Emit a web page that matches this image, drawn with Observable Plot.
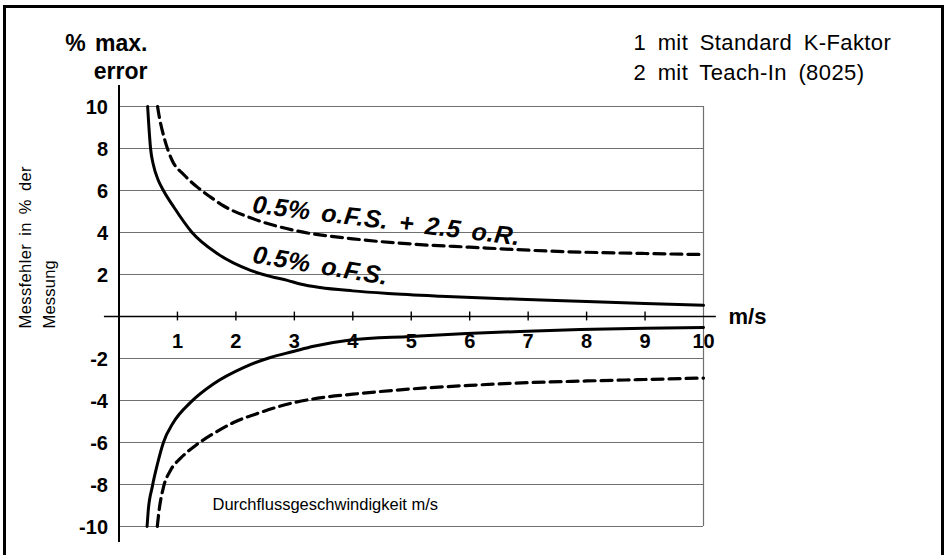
<!DOCTYPE html>
<html>
<head>
<meta charset="utf-8">
<script src="https://cdn.jsdelivr.net/npm/d3@7"></script>
<script src="https://cdn.jsdelivr.net/npm/@observablehq/plot@0.6"></script>
<style>
  html, body { margin: 0; padding: 0; background: #fff; }
  #wrap { position: relative; width: 946px; height: 555px; overflow: hidden; }
  #border { position: absolute; left: 3px; top: 5px; width: 941px; height: 600px;
            box-sizing: border-box; border: 3px solid #000; pointer-events: none; }
</style>
</head>
<body>
<div id="wrap"><div id="border"></div></div>
<script>
// ---- data ----
const xTicks = [1, 2, 3, 4, 5, 6, 7, 8, 9, 10];
const yTicks = [10, 8, 6, 4, 2, -2, -4, -6, -8, -10];

// curve 1 (solid): 0.5% o.F.S.
const solidUpperX = [0.49, 0.51, 0.54, 0.59, 0.67, 0.76, 0.94, 1.25, 1.68, 2.25, 2.6, 2.88, 3.1, 3.44, 4.0, 4.6, 5.5, 6.86, 8.0, 9.0, 10.0];
const solidUpperY = [10, 9.1, 8.0, 7.2, 6.5, 6.0, 5.2, 4.0, 3.0, 2.2, 1.9, 1.72, 1.55, 1.38, 1.22, 1.1, 0.97, 0.82, 0.72, 0.62, 0.53];

const solidLowerX = [0.48, 0.5, 0.57, 0.66, 0.76, 0.93, 1.22, 1.62, 2.13, 2.59, 2.98, 3.33, 3.96, 4.98, 5.95, 6.86, 7.89, 9.0, 10.0];
const solidLowerY = [-10, -9.25, -8.1, -7.0, -6.0, -5.05, -4.1, -3.2, -2.43, -1.95, -1.67, -1.42, -1.12, -0.95, -0.81, -0.71, -0.62, -0.56, -0.52];

// curve 2 (dashed): 0.5% o.F.S. + 2.5 o.R.
const dashedUpperX = [0.66, 0.69, 0.77, 0.91, 1.11, 1.34, 1.56, 1.8, 2.25, 3.0, 4.0, 5.0, 6.0, 7.5, 9.0, 10.0];
const dashedUpperY = [10, 9.5, 8.54, 7.43, 6.75, 6.16, 5.7, 5.25, 4.7, 4.1, 3.7, 3.45, 3.3, 3.1, 3.0, 2.95];

const dashedLowerX = [0.655, 0.69, 0.76, 0.88, 1.05, 1.31, 1.62, 1.96, 2.42, 2.93, 3.5, 4.0, 5.0, 6.0, 7.0, 8.0, 9.0, 10.0];
const dashedLowerY = [-10, -9.15, -8.14, -7.33, -6.76, -6.14, -5.57, -5.05, -4.57, -4.14, -3.85, -3.7, -3.45, -3.28, -3.15, -3.07, -3.0, -2.93];

const yTitle = ["% max.", "error"];
const legendLines = ["1 mit Standard K-Faktor", "2 mit Teach-In (8025)"];
const sideLabel = ["Messfehler in % der", "Messung"];
const xUnit = "m/s";
const xTitle = "Durchflussgeschwindigkeit m/s";
const curveLabels = ["0.5% o.F.S. + 2.5 o.R.", "0.5% o.F.S."];

// ---- build tables ----
const zip = (xs, ys) => xs.map((x, i) => ({x, y: ys[i]}));
const solidUpper = zip(solidUpperX, solidUpperY);
const solidLower = zip(solidLowerX, solidLowerY);
const dashedUpper = zip(dashedUpperX, dashedUpperY);
const dashedLower = zip(dashedLowerX, dashedLowerY);

const FONT = "'Liberation Sans', Arial, Helvetica, sans-serif";

const chart = Plot.plot({
  width: 946,
  height: 555,
  marginLeft: 118.5,
  marginRight: 243,
  marginTop: 106,
  marginBottom: 29,
  x: {domain: [0, 10], axis: null},
  y: {domain: [-10, 10], axis: null},
  style: {fontFamily: FONT, background: "transparent", overflow: "visible"},
  marks: [
    // grid
    Plot.ruleY(yTicks, {x1: 0, x2: 10, stroke: "#707070", strokeWidth: 1.2}),
    Plot.ruleX([10], {y1: -10, y2: 10, stroke: "#707070", strokeWidth: 1.2}),
    // axes lines
    Plot.ruleY([0], {x1: -0.25, x2: 10.22, stroke: "#000", strokeWidth: 1.4}),
    Plot.ruleX([0], {y1: -10.76, y2: 11, stroke: "#000", strokeWidth: 2}),
    Plot.ruleX(xTicks.slice(0, 9), {y1: -0.21, y2: 0.21, stroke: "#000", strokeWidth: 1.4}),
    // curves
    Plot.line(solidUpper, {x: "x", y: "y", stroke: "#000", strokeWidth: 3, curve: "monotone-x"}),
    Plot.line(solidLower, {x: "x", y: "y", stroke: "#000", strokeWidth: 3, curve: "monotone-x"}),
    Plot.line(dashedUpper, {x: "x", y: "y", stroke: "#000", strokeWidth: 3.2, strokeDasharray: "11,6", curve: "monotone-x"}),
    Plot.line(dashedLower, {x: "x", y: "y", stroke: "#000", strokeWidth: 3.2, strokeDasharray: "11,6", curve: "monotone-x"}),
    // tick labels
    Plot.text(xTicks, {x: d => d, y: 0, text: d => String(d), dy: 31, lineAnchor: "bottom",
      fontSize: 20, fontWeight: "bold", fill: "#000"}),
    Plot.text(yTicks, {x: 0, y: d => d, text: d => String(d), dx: -11, dy: 7, lineAnchor: "bottom",
      textAnchor: "end", fontSize: 20, fontWeight: "bold", fill: "#000"}),
    // y title
    Plot.text([yTitle[0]], {frameAnchor: "top-left", dx: 28.5, dy: -56, lineAnchor: "bottom", textAnchor: "end",
      fontSize: 23, fontWeight: "bold", fill: "#000"}),
    Plot.text([yTitle[1]], {frameAnchor: "top-left", dx: 28.5, dy: -28, lineAnchor: "bottom", textAnchor: "end",
      fontSize: 23, fontWeight: "bold", fill: "#000"}),
    // legend
    Plot.text([legendLines[0]], {frameAnchor: "top-left", dx: 514.5, dy: -57, lineAnchor: "bottom", textAnchor: "start",
      fontSize: 22, fill: "#000"}),
    Plot.text([legendLines[1]], {frameAnchor: "top-left", dx: 514.5, dy: -27, lineAnchor: "bottom", textAnchor: "start",
      fontSize: 22, fill: "#000"}),
    // m/s unit
    Plot.text([xUnit], {x: 10, y: 0, dx: 25, dy: 7, lineAnchor: "bottom", textAnchor: "start",
      fontSize: 22, fontWeight: "bold", fill: "#000"}),
    // x title
    Plot.text([xTitle], {frameAnchor: "top-left", dx: 93.5, dy: 403, lineAnchor: "bottom", textAnchor: "start",
      fontSize: 16.5, fill: "#000"}),
    // side label (rotated)
    Plot.text([sideLabel[0]], {x: -1.5, y: -0.57, rotate: -90, lineAnchor: "bottom", textAnchor: "start",
      fontSize: 16.5, fill: "#000"}),
    Plot.text([sideLabel[1]], {x: -1.1, y: -0.57, rotate: -90, lineAnchor: "bottom", textAnchor: "start",
      fontSize: 16.5, fill: "#000"}),
    // curve labels
    Plot.text([curveLabels[0]], {x: 2.27, y: 4.95, rotate: 7, lineAnchor: "bottom", textAnchor: "start",
      fontSize: 25, fontWeight: "bold", fontStyle: "italic", fill: "#000"}),
    Plot.text([curveLabels[1]], {x: 2.27, y: 2.57, rotate: 9.5, lineAnchor: "bottom", textAnchor: "start",
      fontSize: 25, fontWeight: "bold", fontStyle: "italic", fill: "#000"})
  ]
});

// wider word / letter spacing as in the original typesetting
const spacing = new Map([
  [yTitle[0], {wordSpacing: "3px"}],
  [legendLines[0], {wordSpacing: "5px", letterSpacing: "0.4px"}],
  [legendLines[1], {wordSpacing: "5px", letterSpacing: "0.4px"}],
  [sideLabel[0], {wordSpacing: "3px", letterSpacing: "0.4px"}],
  [sideLabel[1], {letterSpacing: "0.2px"}],
  [curveLabels[0], {wordSpacing: "4px", letterSpacing: "0.3px"}],
  [curveLabels[1], {wordSpacing: "4px", letterSpacing: "0.3px"}]
]);
d3.select(chart).selectAll("text").each(function () {
  const s = spacing.get(this.textContent);
  if (s) for (const k in s) this.style[k] = s[k];
});
document.getElementById("wrap").prepend(chart);
</script>
</body>
</html>
